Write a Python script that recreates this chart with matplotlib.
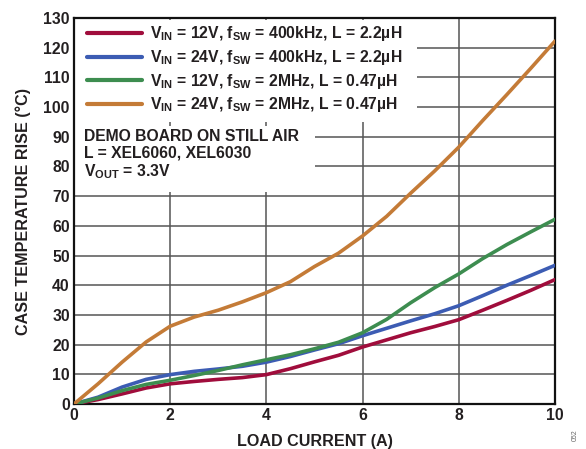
import numpy as np
import matplotlib
matplotlib.use('Agg')
import matplotlib.pyplot as plt
from matplotlib.patches import Rectangle

plt.rcParams['font.family'] = ['Liberation Sans', 'DejaVu Sans']
plt.rcParams['font.weight'] = 'bold'
plt.rcParams['mathtext.fontset'] = 'custom'
plt.rcParams['mathtext.rm'] = 'Liberation Sans:bold'
plt.rcParams['mathtext.bf'] = 'Liberation Sans:bold'
plt.rcParams['mathtext.it'] = 'Liberation Sans:bold'

## data (load current in A, temperature rise in degC)
load_a = [0, 0.5, 1, 1.5, 2, 2.5, 3, 3.5, 4, 4.5, 5, 5.5, 6, 6.5, 7, 7.5, 8,
          8.5, 9, 9.5, 10]
rise_12v_400k = [0, 1.5, 3.4, 5.4, 6.8, 7.6, 8.3, 8.9, 9.9, 11.9, 14.2, 16.4,
                 19.2, 21.6, 24.0, 26.1, 28.4, 31.6, 34.9, 38.3, 41.9]
rise_24v_400k = [0, 2.3, 5.7, 8.3, 9.9, 11.0, 11.8, 12.7, 14.1, 16.0, 18.2,
                 20.3, 23.0, 25.5, 28.0, 30.4, 33.1, 36.5, 40.0, 43.3, 46.7]
rise_12v_2m = [0, 2.0, 4.5, 6.6, 8.0, 9.6, 11.3, 13.2, 14.9, 16.6, 18.6, 20.8,
               24.0, 28.5, 34.1, 39.2, 43.8, 49.0, 53.7, 58.0, 62.2]
rise_24v_2m = [0, 6.8, 14.1, 20.9, 26.2, 29.3, 31.6, 34.4, 37.5, 41.2, 46.3,
               50.8, 56.6, 63.2, 71.0, 78.5, 86.5, 95.5, 104.2, 113.1, 122.2]

series = [
    (rise_12v_400k, '#A00D3C',
     r'V$_{\mathbf{IN}}$ = 12V, f$_{\mathbf{SW}}$ = 400kHz, L = 2.2µH'),
    (rise_24v_400k, '#3C5CB3',
     r'V$_{\mathbf{IN}}$ = 24V, f$_{\mathbf{SW}}$ = 400kHz, L = 2.2µH'),
    (rise_12v_2m, '#3D8D50',
     r'V$_{\mathbf{IN}}$ = 12V, f$_{\mathbf{SW}}$ = 2MHz, L = 0.47µH'),
    (rise_24v_2m, '#C47B37',
     r'V$_{\mathbf{IN}}$ = 24V, f$_{\mathbf{SW}}$ = 2MHz, L = 0.47µH'),
]

x_ticks = [0, 2, 4, 6, 8, 10]
y_ticks = list(range(0, 131, 10))

fs = 11.3
fig = plt.figure(figsize=(5.86, 4.49), dpi=100)
ax = fig.add_axes([0.1263, 0.1002, 0.8207, 0.8597])

for vals, col, lab in series:
    ax.plot(load_a, vals, color=col, lw=2.6, label=lab, zorder=3,
            solid_capstyle='round')

ax.set_xlim(0, 10)
ax.set_ylim(0, 130)
ax.set_xticks(x_ticks)
ax.set_yticks(y_ticks)
ax.grid(True, color='#555555', lw=1.1, zorder=0.5)
ax.set_axisbelow(True)
ax.tick_params(length=0, labelsize=fs, pad=3)
for lbl in ax.get_xticklabels() + ax.get_yticklabels():
    lbl.set_fontweight('bold')
    lbl.set_color('#231f20')
for sp in ax.spines.values():
    sp.set_linewidth(1.6)
    sp.set_color('#111111')

# white patches hiding the grid behind legend and note
ax.add_patch(Rectangle((0.003, 0.73), 0.710, 0.265, transform=ax.transAxes,
                       facecolor='white', edgecolor='none', zorder=1))
ax.add_patch(Rectangle((0.003, 0.548), 0.498, 0.172, transform=ax.transAxes,
                       facecolor='white', edgecolor='none', zorder=1))

leg = ax.legend(loc='upper left', bbox_to_anchor=(0.005, 1.012),
                frameon=False, fontsize=fs, handlelength=3.5,
                handletextpad=0.5, labelspacing=0.3, borderaxespad=0.3)
for t in leg.get_texts():
    t.set_fontweight('bold')
    t.set_color('#231f20')
for h in leg.get_lines():
    h.set_linewidth(3.0)

ax.text(0.021, 0.712, 'DEMO BOARD ON STILL AIR\nL = XEL6060, XEL6030\n'
        r'V$_{\mathbf{OUT}}$ = 3.3V', transform=ax.transAxes, fontsize=fs,
        fontweight='bold', va='top', ha='left', linespacing=1.12,
        color='#231f20', zorder=4)

ax.set_xlabel('LOAD CURRENT (A)', fontsize=fs + 0.3, fontweight='bold',
              color='#231f20', labelpad=8)
ax.set_ylabel('CASE TEMPERATURE RISE (°C)', fontsize=fs + 0.3,
              fontweight='bold', color='#231f20', labelpad=9)

fig.text(0.975, 0.03, '052', rotation=90, fontsize=5, color='#666666',
         fontweight='normal', ha='left', va='center')

fig.savefig('out.png', dpi=100)
